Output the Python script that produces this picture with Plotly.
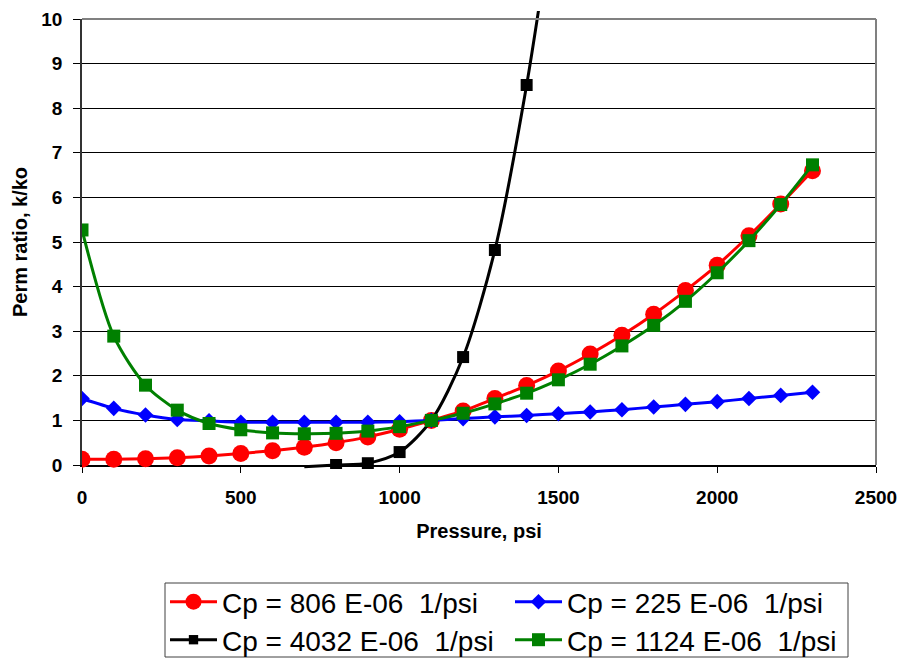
import plotly.graph_objects as go

# ---------------- data ----------------
pressure = [0, 100, 200, 300, 400, 500, 600, 700, 800, 900, 1000, 1100,
            1200, 1300, 1400, 1500, 1600, 1700, 1800, 1900, 2000, 2100, 2200, 2300]
perm_806 = [0.13, 0.13, 0.14, 0.16, 0.20, 0.26, 0.32, 0.40, 0.50, 0.63, 0.80, 1.00,
            1.21, 1.49, 1.78, 2.11, 2.49, 2.91, 3.38, 3.91, 4.48, 5.14, 5.85, 6.60]
perm_225 = [1.49, 1.27, 1.12, 1.02, 0.99, 0.96, 0.96, 0.96, 0.96, 0.96, 0.97, 1.00,
            1.04, 1.08, 1.11, 1.15, 1.19, 1.24, 1.30, 1.36, 1.42, 1.49, 1.56, 1.63]
perm_1124 = [5.27, 2.89, 1.79, 1.23, 0.93, 0.79, 0.72, 0.70, 0.71, 0.76, 0.86, 1.00,
             1.16, 1.37, 1.61, 1.91, 2.26, 2.67, 3.13, 3.67, 4.31, 5.03, 5.84, 6.73]
pressure_4032 = [700, 800, 900, 1000, 1100, 1200, 1300, 1400, 1500]
perm_4032 = [-0.04, 0.00, 0.04, 0.29, 1.00, 2.42, 4.82, 8.52, 13.2]

names = ["Cp = 806 E-06\u00a0 1/psi", "Cp = 225 E-06\u00a0 1/psi",
         "Cp = 4032 E-06\u00a0 1/psi", "Cp = 1124 E-06\u00a0 1/psi"]
x_ticks = [0, 500, 1000, 1500, 2000, 2500]
y_ticks = list(range(0, 11))

# ---------------- layout geometry (pixels) ----------------
W, H = 923, 658
L, R = 82, 47
T, B = 11, 189          # plotting area: y from 11 px to 469 px
Y0_PX, Y10_PX = 465, 19  # pixel rows of y=0 and y=10
ph = H - T - B
ppu = (Y0_PX - Y10_PX) / 10.0
ydom = [(H - B - Y0_PX) / ph, (H - B - Y10_PX) / ph]
y2range = [-(H - B - Y0_PX) / ppu, 10 + (Y10_PX - T) / ppu]

# legend box (pixels)
LEG_L, LEG_R, LEG_T, LEG_B = 165, 848, 583, 657
ROW1_T, ROW2_T = 577, 615

FONT = "Liberation Sans, Arial, sans-serif"


def vis_sizes(vals, s):
    # markers outside the 0-10 axis range are not shown (as in the original)
    return [s if 0 <= v <= 10 else 0 for v in vals]


fig = go.Figure()
fig.add_trace(go.Scatter(x=[], y=[], xaxis="x", yaxis="y", showlegend=False, hoverinfo="skip"))

fig.add_trace(go.Scatter(x=pressure, y=perm_806, name=names[0], yaxis="y2", legend="legend",
                         mode="lines+markers", line=dict(color="#ff0000", width=3, shape="spline", smoothing=0.6),
                         marker=dict(symbol="circle", size=17, color="#ff0000")))
fig.add_trace(go.Scatter(x=pressure, y=perm_225, name=names[1], yaxis="y2", legend="legend",
                         mode="lines+markers", line=dict(color="#0000ff", width=3, shape="spline", smoothing=0.6),
                         marker=dict(symbol="diamond", size=12, color="#0000ff")))
fig.add_trace(go.Scatter(x=pressure_4032, y=perm_4032, name=names[2], yaxis="y2", legend="legend2",
                         mode="lines+markers", line=dict(color="#000000", width=3, shape="spline", smoothing=0.8),
                         marker=dict(symbol="square", size=vis_sizes(perm_4032, 12), color="#000000",
                                     opacity=1, line=dict(width=0))))
fig.add_trace(go.Scatter(x=pressure, y=perm_1124, name=names[3], yaxis="y2", legend="legend2",
                         mode="lines+markers", line=dict(color="#008000", width=3, shape="spline", smoothing=0.8),
                         marker=dict(symbol="square", size=13, color="#008000")))

leg_common = dict(orientation="h", xref="container", yref="container",
                  x=LEG_L / W, xanchor="left", yanchor="top",
                  font=dict(size=28, family=FONT), bgcolor="rgba(0,0,0,0)", borderwidth=0,
                  entrywidth=283, itemwidth=47, traceorder="normal")

tickfont = dict(size=19, family=FONT, weight="bold")

fig.update_layout(
    width=W, height=H,
    margin=dict(l=L, r=R, t=T, b=B, pad=0, autoexpand=False),
    paper_bgcolor="white", plot_bgcolor="rgba(0,0,0,0)",
    font=dict(family=FONT, color="black"),
    xaxis=dict(range=[0, 2500], tickvals=x_ticks, anchor="y", showgrid=False, zeroline=False,
               showline=True, linecolor="black", linewidth=1.5, automargin=False,
               ticks="outside", ticklen=6, tickcolor="black", ticklabelstandoff=8,
               tickfont=tickfont,
               title=dict(text="<b>Pressure, psi</b>", font=dict(size=20), standoff=17)),
    yaxis=dict(range=[0, 10], domain=ydom, tickvals=y_ticks, anchor="x",
               showgrid=True, gridcolor="black", gridwidth=1, zeroline=False,
               showline=True, linecolor="#333333", linewidth=1.5, automargin=False,
               ticks="outside", ticklen=7, tickcolor="black", ticklabelstandoff=7,
               tickfont=tickfont,
               title=dict(text="<b>Perm ratio, k/ko</b>", font=dict(size=20), standoff=8)),
    yaxis2=dict(range=y2range, domain=[0, 1], anchor="x", visible=False,
                showgrid=False, zeroline=False, automargin=False),
    showlegend=True,
    legend=dict(leg_common, y=1 - ROW1_T / H),
    legend2=dict(leg_common, y=1 - ROW2_T / H),
    shapes=[
        # plot-area border (top and right), grey as in the original
        dict(type="line", xref="x domain", yref="y domain", x0=0, x1=1, y0=1, y1=1,
             line=dict(color="#808080", width=2), layer="above"),
        dict(type="line", xref="x domain", yref="y domain", x0=1, x1=1, y0=0, y1=1,
             line=dict(color="#808080", width=2), layer="above"),
        # legend frame
        dict(type="rect", xref="paper", yref="paper",
             x0=(LEG_L - L) / (W - L - R), x1=(LEG_R - L) / (W - L - R),
             y0=(H - B - LEG_B) / ph, y1=(H - B - LEG_T) / ph,
             line=dict(color="#404040", width=1), fillcolor="rgba(0,0,0,0)", layer="below"),
    ],
)

fig.write_html("out.html", config={"displayModeBar": False},
               post_script="document.body.style.margin='0';")
